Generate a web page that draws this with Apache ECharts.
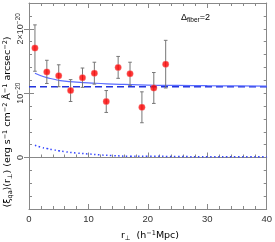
<!DOCTYPE html>
<html><head><meta charset="utf-8">
<script src="https://cdn.jsdelivr.net/npm/echarts@6/dist/echarts.min.js"></script>
<style>html,body{margin:0;padding:0;background:#fff}#c{width:275px;height:242px}</style>
</head><body><div id="c"></div>
<script>
// values in units of 1e-20 erg s^-1 cm^-2 Å^-1 arcsec^-2
const rPerp = [1, 3, 5, 7, 9, 11, 13, 15, 17, 19, 21, 23];
const xiVals = [1.70, 1.33, 1.27, 1.04, 1.24, 1.31, 0.87, 1.40, 1.30, 0.78, 1.08, 1.45];
const xiErr  = [0.36, 0.18, 0.17, 0.17, 0.15, 0.17, 0.17, 0.17, 0.18, 0.24, 0.24, 0.37];
const constLevel = 1.10;
const modelR = [1, 2, 3, 4, 5, 6, 8, 10, 13, 16, 20, 25, 30, 35, 40];
const modelVals = [1.31, 1.27, 1.24, 1.22, 1.20, 1.185, 1.17, 1.16, 1.145, 1.135, 1.125, 1.12, 1.115, 1.112, 1.11];
const excessR = [1, 2, 3, 4, 5, 6, 8, 10, 12, 14, 17, 20, 25, 30, 35, 40];
const excessVals = [0.19, 0.16, 0.14, 0.12, 0.105, 0.09, 0.07, 0.055, 0.04, 0.03, 0.02, 0.02, 0.015, 0.012, 0.01, 0.01];
const xTicks = [0, 10, 20, 30, 40];
const yTickLabels = {0: '{b|0}', 1: '{b|10}{s|−20}', 2: '{b|2×10}{s|−20}'};

const FONT = 'Liberation Sans';
const NFONT = 'DejaVu Sans';
const GRAY = '#888';
const TXT = '#333';
const richLab = {
  b: {fontSize: 9, fontFamily: FONT, color: TXT, lineHeight: 11},
  s: {fontSize: 6.5, fontFamily: FONT, color: TXT, lineHeight: 11, verticalAlign: 'top'},
  u: {fontSize: 6.5, fontFamily: FONT, color: TXT, lineHeight: 11, verticalAlign: 'bottom'}
};
const richName = {
  b: {fontSize: 9.5, fontFamily: NFONT, color: TXT, lineHeight: 12},
  s: {fontSize: 6.5, fontFamily: NFONT, color: TXT, lineHeight: 12, verticalAlign: 'top'},
  u: {fontSize: 6.5, fontFamily: NFONT, color: TXT, lineHeight: 12, verticalAlign: 'bottom'}
};

const chart = echarts.init(document.getElementById('c'), null, {renderer: 'canvas'});
const xBase = {
  type: 'value', min: 0, max: 40, interval: 10,
  axisLine: {show: true, onZero: false, lineStyle: {color: GRAY, width: 1}},
  axisTick: {show: true, inside: true, length: 5, lineStyle: {color: GRAY}},
  minorTick: {show: true, splitNumber: 5, length: 3, lineStyle: {color: GRAY}},
  splitLine: {show: false}, minorSplitLine: {show: false}
};
const yBase = {
  type: 'value', min: -0.8, max: 2.4, interval: 0.2,
  axisLine: {show: false},
  axisTick: {show: true, inside: true, length: 3, lineStyle: {color: GRAY}},
  axisLabel: {show: false},
  splitLine: {show: false}
};
const yMajor = {
  type: 'value', min: -0.8, max: 2.4, interval: 0.2,
  axisLine: {show: false},
  axisTick: {show: true, inside: true, length: 5, customValues: [0, 1, 2], lineStyle: {color: GRAY}},
  axisLabel: {show: false},
  splitLine: {show: false}
};

chart.setOption({
  animation: false,
  grid: {left: 29, right: 7, top: 1, bottom: 33, containLabel: false},
  xAxis: [
    Object.assign({}, xBase, {position: 'bottom',
      axisLabel: {show: true, margin: 5, fontSize: 9.5, fontFamily: FONT, color: TXT,
        customValues: xTicks}}),
    Object.assign({}, xBase, {position: 'top', axisLabel: {show: false}}),
    Object.assign({}, xBase, {position: 'bottom',
      axisLine: {show: true, onZero: true, onZeroAxisIndex: 0, lineStyle: {color: GRAY, width: 1}},
      axisLabel: {show: false}})
  ],
  yAxis: [
    Object.assign({}, yBase, {position: 'left',
      axisLine: {show: true, onZero: false, lineStyle: {color: GRAY, width: 1}},
      axisLabel: {show: true, rotate: 90, margin: 3, rich: richLab,
        formatter: function (v) {
          const k = Math.round(v);
          if (Math.abs(v - k) < 1e-6 && yTickLabels[k] !== undefined) return yTickLabels[k];
          return '';
        }}}),
    Object.assign({}, yMajor, {position: 'left'}),
    Object.assign({}, yBase, {position: 'right',
      axisLine: {show: true, onZero: false, lineStyle: {color: GRAY, width: 1}}}),
    Object.assign({}, yMajor, {position: 'right'})
  ],
  graphic: [
    {type: 'text', x: 8, y: 122, rotation: Math.PI / 2,
      style: {text: '{b|⟨ξ}{u|qa}{b|⟩(r}{u|⊥}{b|) (erg s}{s|−1}{b| cm}{s|−2}{b| Å}{s|−1}{b| arcsec}{s|−2}{b|)}',
        rich: richName, align: 'center', verticalAlign: 'middle'}},
    {type: 'text', x: 150, y: 236,
      style: {text: '{b|r}{u|⊥}{b|  (h}{s|−1}{b|Mpc)}', rich: richName, align: 'center', verticalAlign: 'middle'}},
    {type: 'text', x: 181, y: 18,
      style: {text: '{b|Δ}{u|fiber}{b|=2}', rich: richLab, align: 'left', verticalAlign: 'middle'}}
  ],
  series: [
    {type: 'line', name: 'const', data: [[0, constLevel], [40, constLevel]], showSymbol: false, symbol: 'none',
      lineStyle: {color: '#2233dd', width: 1.5, type: [7, 4]}, z: 2},
    {type: 'line', name: 'model', data: modelR.map((r, i) => [r, modelVals[i]]), symbol: 'none', smooth: true,
      lineStyle: {color: '#5b6cff', width: 1.2}, z: 3},
    {type: 'line', name: 'excess', data: excessR.map((r, i) => [r, excessVals[i]]), symbol: 'none', smooth: true,
      lineStyle: {color: '#3344ff', width: 1.5, type: [1.5, 2.5]}, z: 3},
    {type: 'custom', name: 'err', data: rPerp.map((r, i) => [r, xiVals[i] - xiErr[i], xiVals[i] + xiErr[i]]), z: 4,
      renderItem: function (params, api) {
        const lo = api.coord([api.value(0), api.value(1)]);
        const hi = api.coord([api.value(0), api.value(2)]);
        const w = 1.8;
        const st = {stroke: '#777', lineWidth: 1};
        return {type: 'group', children: [
          {type: 'line', shape: {x1: lo[0], y1: lo[1], x2: hi[0], y2: hi[1]}, style: st},
          {type: 'line', shape: {x1: lo[0] - w, y1: lo[1], x2: lo[0] + w, y2: lo[1]}, style: st},
          {type: 'line', shape: {x1: hi[0] - w, y1: hi[1], x2: hi[0] + w, y2: hi[1]}, style: st}
        ]};
      }},
    {type: 'scatter', name: 'data', data: rPerp.map((r, i) => [r, xiVals[i]]), symbol: 'circle', symbolSize: 6.5,
      itemStyle: {color: '#ff0000', borderColor: '#e99', borderWidth: 0.5}, z: 5}
  ]
});
</script></body></html>
